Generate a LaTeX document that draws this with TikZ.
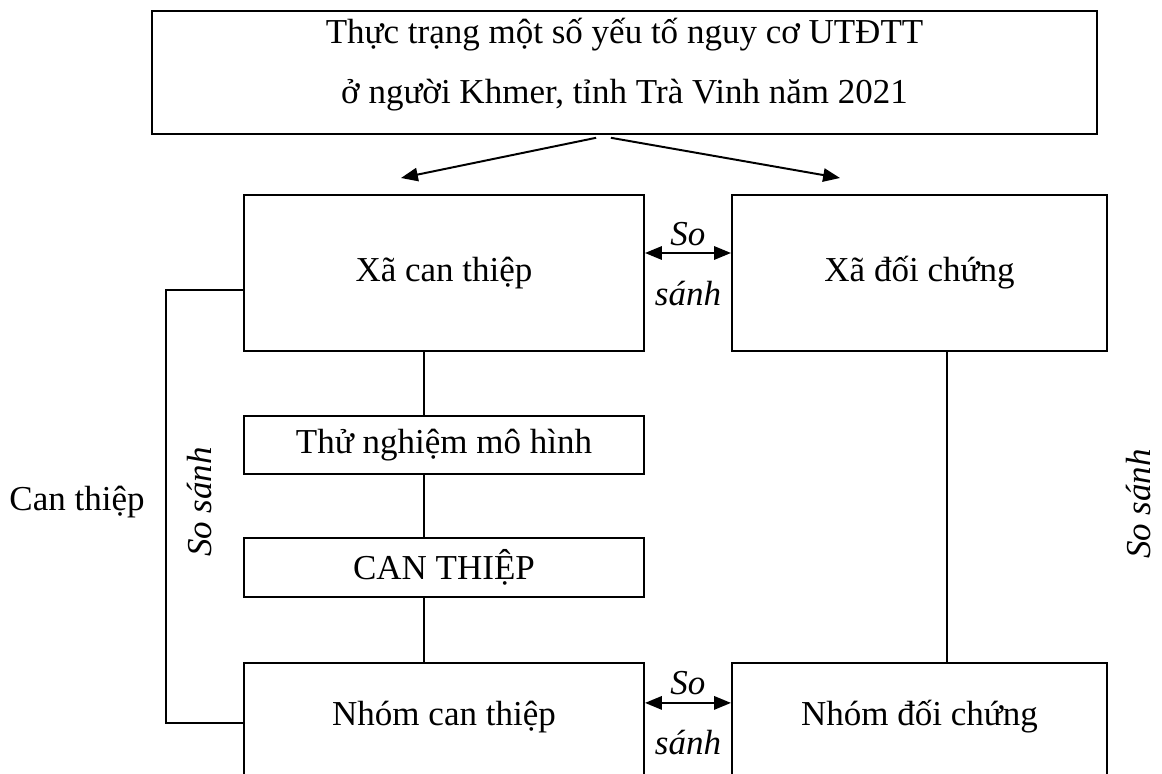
\documentclass[tikz,border=0pt]{standalone}
\usepackage{fontspec}
\setmainfont{Liberation Serif}
\usepackage{tikz}
\usetikzlibrary{arrows.meta,positioning}

\begin{document}
\begin{tikzpicture}[>={Triangle[length=12pt,width=9.5pt]},line width=1.4pt,
                font=\fontsize{24.9pt}{42.7pt}\selectfont,
                box/.style={draw,rectangle,minimum width=10cm,minimum height=3.9cm,inner sep=0pt},
                low/.style={box,text height=0.75cm,text depth=1.5cm},
                cmp/.style={align=center,font=\fontsize{24.9pt}{42.7pt}\selectfont\itshape}]
                \useasboundingbox (0,0) rectangle (29.05,-19.35);
                \node[box,minimum width=23.625cm,minimum height=3.075cm,align=center] (T) at (15.6125,-1.8125)
                     {Thực trạng một số yếu tố nguy cơ UTĐTT\\ở người Khmer, tỉnh Trà Vinh năm 2021\rule[-0.6cm]{0pt}{0.6cm}};
                \node[box] (XCT) at (11.1,-6.825) {Xã can thiệp};
                \node[box,minimum width=9.375cm] (XDC) [right=2.15cm of XCT] {Xã đối chứng};
                \node[box,minimum height=1.45cm] (TN) [below=1.575cm of XCT] {Thử nghiệm mô hình};
                \node[box,minimum height=1.475cm] (CT) [below=1.55cm of TN] {CAN THIỆP};
                \node[low] (NCT) [below=1.6cm of CT] {Nhóm can thiệp};
                \node[low,minimum width=9.375cm] (NDC) [right=2.15cm of NCT] {Nhóm đối chứng};

                \node (CTL) at (1.925,-12.55) {Can thiệp};
                \node[cmp,rotate=90] (SSL) at (5.0,-12.55) {So sánh};
                \node[cmp,rotate=90] (SSR) at (28.45,-12.6) {So sánh};
                \coordinate (AL) at (10.025,-4.45);
                \coordinate (AR) at (21.0,-4.45);

                \draw[->] ([xshift=-0.71cm,yshift=-2pt]T.south) -- (AL);
                \draw[->] ([xshift=-0.34cm,yshift=-2pt]T.south) -- (AR);
                \draw[<->] ([yshift=0.5cm]XCT.east) -- ([yshift=0.5cm]XDC.west)
                      node[cmp,midway,yshift=-0.275cm] (SS1) {So\\sánh};
                \draw[<->] ([yshift=0.95cm]NCT.east) -- ([yshift=0.95cm]NDC.west)
                      node[cmp,midway,yshift=-0.25cm] (SS2) {So\\sánh};

                \path ([xshift=-0.5cm]XCT.south) edge ([xshift=-0.5cm]TN.north)
                      ([xshift=-0.5cm]TN.south) edge ([xshift=-0.5cm]CT.north)
                      ([xshift=-0.5cm]CT.south) edge ([xshift=-0.5cm]NCT.north)
                      ([xshift=0.69cm]XDC.south) edge ([xshift=0.69cm]NDC.north);
                \draw ([yshift=-0.425cm]XCT.west) -- ++(-1.925,0) |- ([yshift=0.45cm]NCT.west);
            \end{tikzpicture}
\end{document}
